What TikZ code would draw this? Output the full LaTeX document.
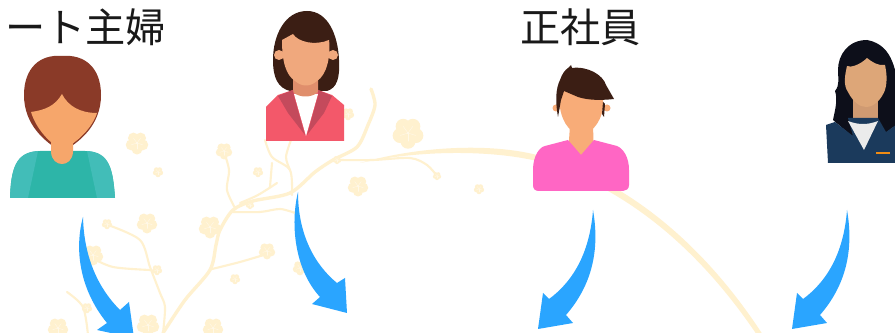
\documentclass[tikz,border=0pt]{standalone}
\usepackage{fontspec}
\newfontfamily\jpfont{Noto Sans CJK JP}
\definecolor{cream}{HTML}{FFF1CF}
\definecolor{arrowblue}{HTML}{2AA5FF}
\definecolor{auburn}{RGB}{138,58,40}
\definecolor{peach}{RGB}{246,166,107}
\definecolor{shirtteal}{RGB}{45,181,168}
\definecolor{lightteal}{RGB}{66,189,184}
\definecolor{darkhair}{RGB}{59,30,20}
\definecolor{neckskin}{RGB}{224,142,108}
\definecolor{faceskin}{RGB}{240,168,125}
\definecolor{jacketred}{RGB}{243,88,106}
\definecolor{lapelred}{RGB}{196,74,92}
\definecolor{paleskin}{RGB}{248,172,120}
\definecolor{shirtpink}{RGB}{255,102,196}
\definecolor{blackhair}{RGB}{13,15,26}
\definecolor{tanneck}{RGB}{207,154,114}
\definecolor{tanface}{RGB}{221,166,120}
\definecolor{navy}{RGB}{27,58,92}
\definecolor{badge}{RGB}{240,140,20}
\tikzstyle{every node}=[font=\jpfont\fontsize{28.6}{30}\selectfont,inner sep=0pt,text=black!90]
\tikzstyle{twig}=[draw=cream,line width=1.5pt]
\tikzstyle{limb}=[draw=cream,line width=2.4pt]
\tikzstyle{swoop}=[fill=arrowblue]
\newcommand{\blossom}[3]{
  \foreach \a in {18,90,162,234,306}
  \fill[cream] (#1,#2) ++(\a:0.55*#3) circle [radius=0.5*#3];
  \foreach \a in {18,90,162,234,306}
  \draw[cream!50!white,line width=0.3pt] (#1,#2) -- ++(\a:0.55*#3);
}

\begin{document}
\begin{tikzpicture}[x=0.025cm,y=-0.025cm,line cap=round,line join=round]
  \clip (0,0) rectangle (895,333);
  \fill[white] (0,0) rectangle (895,333);

  % branches
  \fill[cream] (360,163) .. controls (420,146) and (490,143) .. (537,155)
  .. controls (620,177) and (700,238) .. (763,335) -- (757,335)
  .. controls (695,243) and (620,185) .. (537,161)
  .. controls (490,150) and (420,150) .. (360,163) -- cycle;
  \draw[limb] plot [smooth] coordinates
  {(163,333) (185,300) (210,270) (216,245) (220,230) (233,210) (253,201) (290,193) (315,172) (333,160) (357,147) (368,125) (375,105) (371,89)};
  \draw[twig] plot [smooth] coordinates {(212,269) (240,262) (267,254)};
  \draw[twig] plot [smooth] coordinates {(224,152) (229,170) (227,190) (235,208)};
  \draw[twig] plot [smooth] coordinates {(233,212) (260,212) (280,209) (295,213)};
  \draw[twig] plot [smooth] coordinates {(277,183) (258,195) (240,203)};
  \draw[twig] (272,163) -- (270,187);
  \draw[twig] plot [smooth] coordinates {(265,140) (272,157) (290,170) (292,195)};
  \draw[twig] plot [smooth] coordinates {(291,140) (286,157) (290,170)};
  \draw[twig] plot [smooth] coordinates {(337,160) (373,160) (410,158) (427,165) (437,176)};
  \draw[twig] plot [smooth] coordinates {(108,225) (140,240) (150,267) (160,293) (165,307) (163,333)};
  \draw[twig] plot [smooth] coordinates {(90,257) (113,267) (150,270)};
  \draw[twig] plot [smooth] coordinates {(67,292) (83,307) (88,335)};

  % flowers
  \foreach \fx/\fy/\fr in {137/143/11,158/172/5,147/223/10,107/224/5,93/255/10,157/270/5,
    210/227/11,224/151/8,258/172/5,267/251/8,235/279/5,148/325/11,58/328/10,213/328/10,
    87/308/5,250/205/4,408/133/15,358/186/10,437/176/4,479/189/5,348/114/6,337/160/4,
    300/268/7}
  {\blossom{\fx}{\fy}{\fr}}

  % labels
  \node[anchor=west] (hausfrau) at (5,27) {ート主婦};
  \node[anchor=west] (employee) at (520,27) {正社員};

  % teal shirt with brown hair
  \fill[auburn] (62,56)
  .. controls (40,54) and (24,68) .. (24,95)
  .. controls (24,125) and (45,142) .. (62,152)
  .. controls (80,142) and (101,125) .. (101,95)
  .. controls (101,68) and (85,54) .. (62,56) -- cycle;
  \fill[peach] (31,112)
  .. controls (45,110) and (55,106) .. (62,94)
  .. controls (68,106) and (80,113) .. (97,113)
  .. controls (92,128) and (78,142) .. (62,150)
  .. controls (48,142) and (36,128) .. (31,112) -- cycle;
  \fill[shirtteal] (10,198) .. controls (11,170) and (15,152) .. (40,151)
  -- (85,151) .. controls (110,152) and (113,170) .. (115,198) -- cycle;
  \fill[lightteal] (10,198) .. controls (11,170) and (15,152) .. (38,151)
  -- (28,198) -- cycle;
  \fill[lightteal] (115,198) .. controls (113,170) and (110,152) .. (87,151)
  -- (97,198) -- cycle;
  \fill[peach] (51,140) -- (51,152)
  .. controls (52,168) and (72,168) .. (73,152) -- (73,140) -- cycle;

  % red jacket
  \fill[darkhair] (307,11)
  .. controls (285,11) and (273,35) .. (273,60)
  .. controls (273,78) and (278,88) .. (290,91) -- (327,91)
  .. controls (337,88) and (340,78) .. (339,60)
  .. controls (338,35) and (328,11) .. (307,11) -- cycle;
  \fill[jacketred] (266,107) -- (266,141) -- (344,141) -- (344,105)
  -- (332,95) -- (318,90) -- (293,90) -- (278,95) -- cycle;
  \fill[white] (294,94) -- (318,94) -- (306,136) -- cycle;
  \fill[neckskin] (293,75) -- (318,75) -- (318,92)
  .. controls (312,98) and (299,98) .. (293,92) -- cycle;
  \fill[lapelred] (293,90) -- (278,96) -- (288,113) -- (305,135) -- (294,96) -- cycle;
  \fill[lapelred] (318,90) -- (332,96) -- (324,113) -- (307,135) -- (318,96) -- cycle;
  \fill[faceskin] (293,34)
  .. controls (298,42) and (315,46) .. (329,40)
  .. controls (331,55) and (327,75) .. (317,81)
  .. controls (310,87) and (302,87) .. (295,81)
  .. controls (286,75) and (282,62) .. (282,40) -- cycle;
  \fill[faceskin] (279,55) circle [radius=5];
  \fill[faceskin] (333,55) circle [radius=5];

  % pink shirt
  \fill[paleskin] (570,125) -- (593,125) -- (594,156) -- (568,156) -- cycle;
  \fill[paleskin] (556,108) circle [radius=3.5];
  \fill[paleskin] (607,108) circle [radius=3.5];
  \fill[paleskin] (560,85) -- (603,85) -- (603,108)
  .. controls (600,125) and (590,134) .. (581,134)
  .. controls (572,134) and (563,125) .. (560,108) -- cycle;
  \fill[darkhair] (558,117) .. controls (555,100) and (556,88) .. (560,80)
  .. controls (562,74) and (565,70) .. (568,68) -- (571,65) -- (572,68)
  .. controls (588,66) and (603,75) .. (606,85) -- (614,99)
  .. controls (605,100) and (590,101) .. (578,97) -- (564,91) -- (561,100) -- cycle;
  \fill[darkhair] (603,102) -- (605,104) -- (604,117) -- (602,114) -- cycle;
  \fill[shirtpink] (533,170) .. controls (533,155) and (540,147) .. (545,146)
  -- (568,140) -- (581,155) -- (594,140) -- (617,146)
  .. controls (624,149) and (629,158) .. (629,170)
  -- (629,185) .. controls (629,189) and (626,191) .. (623,191)
  -- (539,191) .. controls (535,191) and (533,189) .. (533,185) -- cycle;

  % navy jacket
  \fill[blackhair] (867,40)
  .. controls (848,40) and (838,55) .. (838,70)
  .. controls (838,78) and (840,85) .. (835,91)
  .. controls (838,100) and (835,110) .. (833,120)
  -- (853,137) -- (883,135) -- (900,122) -- (900,90)
  .. controls (895,75) and (895,45) .. (867,40) -- cycle;
  \fill[tanneck] (853,100) rectangle (878,125);
  \fill[tanface] (867,58)
  .. controls (860,65) and (850,68) .. (847,66)
  .. controls (845,75) and (843,85) .. (848,92)
  .. controls (853,102) and (860,107) .. (866,107)
  .. controls (875,107) and (882,98) .. (885,90)
  .. controls (888,80) and (886,70) .. (885,65)
  .. controls (878,66) and (872,62) .. (867,58) -- cycle;
  \fill[navy] (826,125) -- (828,163) -- (900,163) -- (900,122)
  -- (886,132) -- (878,118) -- (848,118) -- (853,136) -- (835,122) -- cycle;
  \fill[black!8] (848,121) .. controls (858,125) and (868,125) .. (878,121)
  -- (864,150) -- cycle;
  \fill[badge] (876,152) rectangle (890,154.5);

  % arrows
  \fill[swoop] (83,217) .. controls (74,250) and (80,290) .. (107,323)
  -- (97,330) -- (134,338) -- (129,302) -- (120,310)
  .. controls (100,290) and (84,260) .. (83,217) -- cycle;
  \fill[swoop] (298,192) .. controls (290,225) and (295,270) .. (320,297)
  -- (312,304) -- (347,313) -- (345,278) -- (337,283)
  .. controls (315,265) and (298,235) .. (298,192) -- cycle;
  \fill[swoop] (593,210) .. controls (600,250) and (592,285) .. (566,315)
  -- (573,323) -- (538,329) -- (543,293) -- (549,299)
  .. controls (575,280) and (590,250) .. (593,210) -- cycle;
  \fill[swoop] (847,210) .. controls (854,250) and (846,285) .. (820,315)
  -- (827,323) -- (792,329) -- (797,293) -- (803,299)
  .. controls (829,280) and (844,250) .. (847,210) -- cycle;
\end{tikzpicture}
\end{document}
